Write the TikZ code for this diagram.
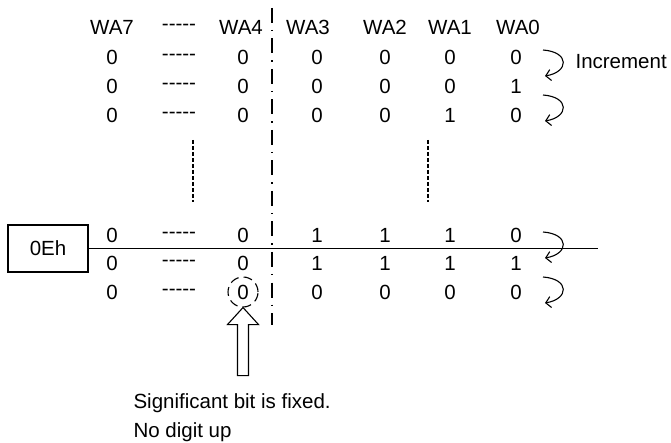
\documentclass[tikz,border=0pt]{standalone}
\usepackage{fontspec}
\setmainfont{Liberation Sans}
\usetikzlibrary{positioning,arrows.meta}

\newcommand{\fivedash}{-{}-{}-{}-{}-}

\tikzset{
    bit/.style={inner sep=0pt},
    incr/.style={-{Straight Barb[length=5pt,width=11pt]}},
    divider/.style={dash pattern=on 15pt off 7pt on 1.5pt off 7pt},
    gapline/.style={dash pattern=on 4pt off 2pt},
}

\begin{document}
\begin{tikzpicture}[x=1pt, y=-1pt, line width=1.1pt, font=\fontsize{20.5}{24}\selectfont]
    \useasboundingbox (0,0) rectangle (671,443);

    % header
    \foreach \c/\x/\t in {1/112/WA7, 2/179/\fivedash, 3/241/WA4, 4/308/WA3, 5/385/WA2, 6/450/WA1, 7/518/WA0}
        \node[bit] (h\c) at (\x,27) {\t};

    % upper rows
    \foreach \c/\x/\t in {1/112/0, 2/179/\fivedash, 3/243/0, 4/317/0, 5/385/0, 6/450/0, 7/516/0}
        \node[bit] (u1c\c) at (\x,57) {\t};
    \foreach \c/\x/\t in {1/112/0, 2/179/\fivedash, 3/243/0, 4/317/0, 5/385/0, 6/450/0, 7/516/1}
        \node[bit] (u2c\c) at (\x,86) {\t};
    \foreach \c/\x/\t in {1/112/0, 2/179/\fivedash, 3/243/0, 4/317/0, 5/385/0, 6/450/1, 7/516/0}
        \node[bit] (u3c\c) at (\x,115) {\t};

    % lower rows
    \foreach \c/\x/\t in {1/112/0, 2/179/\fivedash, 3/243/0, 4/317/1, 5/385/1, 6/450/1, 7/516/0}
        \node[bit] (l1c\c) at (\x,235) {\t};
    \foreach \c/\x/\t in {1/112/0, 2/179/\fivedash, 3/243/0, 4/317/1, 5/385/1, 6/450/1, 7/516/1}
        \node[bit] (l2c\c) at (\x,263) {\t};
    \foreach \c/\x/\t in {1/112/0, 2/179/\fivedash, 3/243/0, 4/317/0, 5/385/0, 6/450/0, 7/516/0}
        \node[bit] (l3c\c) at (\x,292) {\t};

    \node[bit, anchor=west] (inc) at (575,62) {Increment};

    % register value
    \node[draw, minimum width=80pt, minimum height=47pt, inner sep=0pt] (reg) at (48,248.5) {0Eh};
    \coordinate (regend) at (598,248.5);
    \draw (reg.east) -- (regend);

    % divider and skipped rows
    \coordinate (divtop) at (272,8);
    \coordinate (divbot) at (272,325);
    \draw[divider] (divtop) -- (divbot);
    \coordinate (skipa) at (193,140);
    \coordinate (skipb) at (428,140);
    \draw[gapline] (skipa) -- ++(0,62);
    \draw[gapline] (skipb) -- ++(0,62);

    % increment arrows
    \coordinate (ua) at (543,50);
    \coordinate (ub) at (543,95);
    \coordinate (la) at (543,232);
    \coordinate (lb) at (543,277);
    \foreach \p in {ua,ub,la,lb}
        \draw[incr] (\p) .. controls +(27,2) and +(24,-4) .. +(2,26);

    % fixed bit
    \node[circle, draw, dash pattern=on 9pt off 5pt, minimum size=30pt, inner sep=0pt] (fixed) at (l3c3) {};
    \draw[fill=white, line join=miter] (fixed.south) -- ++(15.5,17) -- ++(-10,0) -- ++(0,51)
        -- ++(-11,0) -- ++(0,-51) -- ++(-10,0) -- cycle;

    \node[bit, anchor=base west] (note1) at (133,408) {Significant bit is fixed.};
    \node[bit, below=29pt of note1.base west, anchor=base west] (note2) {No digit up};
\end{tikzpicture}
\end{document}
